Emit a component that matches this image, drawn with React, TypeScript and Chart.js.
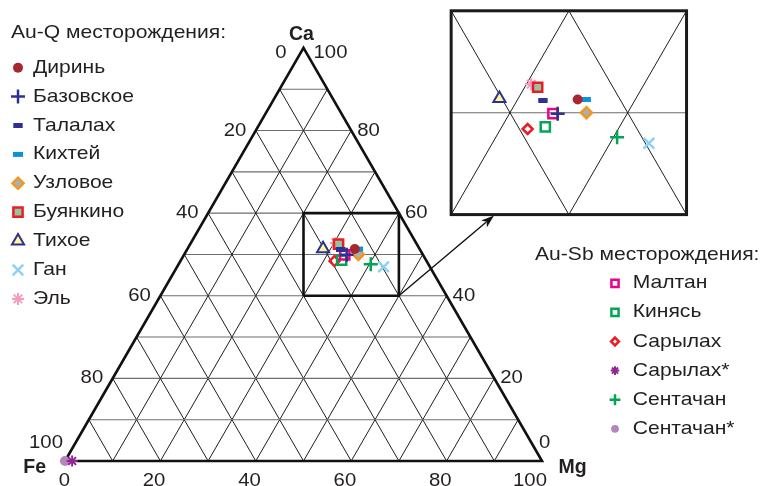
import React, { useEffect, useRef } from 'react';
import { Chart, registerables } from 'chart.js';
import { drawPoint } from 'chart.js/helpers';

Chart.register(...registerables);

// ---------- data ----------
const AUQ_NAMES = ['Диринь', 'Базовское', 'Талалах', 'Кихтей', 'Узловое', 'Буянкино', 'Тихое', 'Ган', 'Эль'];
const AUQ_CA = [51.3, 49.9, 51.2, 51.3, 50.0, 52.5, 51.4, 47.0, 52.8];
const AUQ_MG = [35.1, 34.1, 32.2, 35.8, 36.5, 31.1, 28.4, 43.3, 30.4];
const AUQ_FE = [13.6, 16.0, 16.6, 12.9, 13.5, 16.4, 20.2, 9.7, 16.8];

const AUSB_NAMES = ['Малтан', 'Кинясь', 'Сарылах', 'Сарылах*', 'Сентачан', 'Сентачан*'];
const AUSB_CA = [49.9, 48.6, 48.4, 0, 47.6, 0];
const AUSB_MG = [33.7, 33.7, 32.3, 1.5, 40.3, 0];
const AUSB_FE = [16.4, 17.7, 19.3, 98.5, 12.1, 100];

const GRID_STEPS = [10, 20, 30, 40, 50, 60, 70, 80, 90];
const FE_TICKS = [0, 20, 40, 60, 80, 100];
const CA_TICKS = [100, 80, 60, 40, 20, 0];
const MG_TICKS = [0, 20, 40, 60, 80, 100];
// zoom window: Ca range and (Mg + Ca/2) range
const ZOOM_CA = [40, 60];
const ZOOM_U = [50, 70];

const AUQ_TITLE = 'Au-Q месторождения:';
const AUSB_TITLE = 'Au-Sb месторождения:';

// ---------- styles ----------
type St = { ps: string; r: number; bg: string; bc: string; bw: number };
const AUQ_STYLES: St[] = [
  { ps: 'circle', r: 5, bg: '#a8262e', bc: '#a8262e', bw: 0 },
  { ps: 'cross', r: 7, bg: 'rgba(0,0,0,0)', bc: '#2e3192', bw: 2.5 },
  { ps: 'line', r: 4.7, bg: 'rgba(0,0,0,0)', bc: '#2e3192', bw: 5 },
  { ps: 'line', r: 5, bg: 'rgba(0,0,0,0)', bc: '#0a93d6', bw: 5 },
  { ps: 'rectRot', r: 5.5, bg: '#9db3c2', bc: '#f7941d', bw: 2.5 },
  { ps: 'rect', r: 6.5, bg: '#8ec7a0', bc: '#ed1c24', bw: 2.5 },
  { ps: 'triangle', r: 7, bg: '#fff799', bc: '#2e3192', bw: 2 },
  { ps: 'crossRot', r: 7.5, bg: 'rgba(0,0,0,0)', bc: '#8ad3f4', bw: 2.5 },
  { ps: 'star', r: 6, bg: 'rgba(0,0,0,0)', bc: '#f49ac1', bw: 2 },
];
const AUSB_STYLES: St[] = [
  { ps: 'rect', r: 6.5, bg: 'rgba(0,0,0,0)', bc: '#ec008c', bw: 2.5 },
  { ps: 'rect', r: 6.5, bg: 'rgba(0,0,0,0)', bc: '#00a651', bw: 2.5 },
  { ps: 'rectRot', r: 5, bg: 'rgba(0,0,0,0)', bc: '#ed1c24', bw: 2.5 },
  { ps: 'star', r: 5.5, bg: 'rgba(0,0,0,0)', bc: '#92278f', bw: 2 },
  { ps: 'cross', r: 7, bg: 'rgba(0,0,0,0)', bc: '#00a651', bw: 2.5 },
  { ps: 'circle', r: 5, bg: '#b585be', bc: '#b585be', bw: 0 },
];

const TEXT = '#231f20';
const FONT = '18.5px "Liberation Sans", Arial, sans-serif';
const BOLD = 'bold 19.5px "Liberation Sans", Arial, sans-serif';
const SX_TEXT = 1.14;
const SX_NUM = 1.1;

const W = 761;
const H = 486;
const K = 4.77; // px per unit in main view
const X0 = 65;
const Y0 = 461;
const INSET_LEFT = 448;
const INSET_TOP = 8;
const INSET_W = 241;
const INSET_H = 210;
const INSET_PAD = { left: 3.15, top: 2.8, right: 2.45, bottom: 3.4 };

const S3 = Math.sqrt(3) / 2;
function toXY(ca: number, mg: number, fe: number) {
  const s = ca + mg + fe;
  const c = (ca / s) * 100;
  const m = (mg / s) * 100;
  return { x: m + c / 2, y: c * S3 };
}

function gridDatasets() {
  const ds: any[] = [];
  GRID_STEPS.forEach((k) => {
    ds.push({ data: [toXY(k, 0, 100 - k), toXY(k, 100 - k, 0)], c: '#6d6d6d', w: 1.1 });
    ds.push({ data: [toXY(0, k, 100 - k), toXY(100 - k, k, 0)], c: '#1e1e1e', w: 1 });
    ds.push({ data: [toXY(0, 100 - k, k), toXY(100 - k, 0, k)], c: '#1e1e1e', w: 1 });
  });
  return ds.map((d) => ({
    data: d.data,
    showLine: true,
    pointRadius: 0,
    borderColor: d.c,
    borderWidth: d.w,
    order: 10,
  }));
}

function pointDatasets() {
  const out: any[] = [];
  const add = (names: string[], ca: number[], mg: number[], fe: number[], st: St[]) => {
    names.forEach((n, i) => {
      out.push({
        label: n,
        data: [toXY(ca[i], mg[i], fe[i])],
        showLine: false,
        pointStyle: st[i].ps,
        pointRadius: st[i].r,
        pointBackgroundColor: st[i].bg,
        pointBorderColor: st[i].bc,
        pointBorderWidth: st[i].bw,
        order: 0,
      });
    });
  };
  add(AUQ_NAMES, AUQ_CA, AUQ_MG, AUQ_FE, AUQ_STYLES);
  add(AUSB_NAMES, AUSB_CA, AUSB_MG, AUSB_FE, AUSB_STYLES);
  return out;
}

function txt(ctx: CanvasRenderingContext2D, s: string, x: number, y: number, align: CanvasTextAlign, baseline: CanvasTextBaseline = 'middle', font = FONT, sx = SX_NUM) {
  ctx.save();
  ctx.font = font;
  ctx.fillStyle = TEXT;
  ctx.textAlign = align;
  ctx.textBaseline = baseline;
  ctx.translate(x, y);
  ctx.scale(sx, 1);
  ctx.fillText(s, 0, 0);
  ctx.restore();
}

function legendMarker(ctx: CanvasRenderingContext2D, st: St, x: number, y: number, f: number) {
  ctx.save();
  ctx.fillStyle = st.bg;
  ctx.strokeStyle = st.bc;
  ctx.lineWidth = st.bw;
  drawPoint(ctx, { pointStyle: st.ps as any, radius: st.r * f, rotation: 0, borderWidth: st.bw } as any, x, y);
  ctx.restore();
}

const mainDecor = {
  id: 'mainDecor',
  afterDraw(chart: any) {
    const ctx: CanvasRenderingContext2D = chart.ctx;
    const xs = chart.scales.x;
    const ys = chart.scales.y;
    const P = (ca: number, mg: number, fe: number) => {
      const p = toXY(ca, mg, fe);
      return [xs.getPixelForValue(p.x), ys.getPixelForValue(p.y)];
    };
    // Fe ticks (left edge)
    FE_TICKS.forEach((v) => {
      const [px, py] = P(100 - v, 0, v);
      let dx = -9.5, dy = 0;
      if (v === 0) { dx = -17; dy = 5; }
      if (v === 100) { dx = -2; dy = -18; }
      txt(ctx, String(v), px + dx, py + dy, 'right');
    });
    // Ca ticks (right edge)
    CA_TICKS.forEach((v) => {
      const [px, py] = P(v, 100 - v, 0);
      let dx = 6, dy = 0;
      if (v === 100) { dx = 10; dy = 5; }
      if (v === 0) { dx = -3; dy = -18; }
      txt(ctx, String(v), px + dx, py + dy, 'left');
    });
    // Mg ticks (base)
    MG_TICKS.forEach((v) => {
      const [px, py] = P(0, v, 100 - v);
      txt(ctx, String(v), px + 5, py + 11, 'right', 'top');
    });
    // corner names
    const [ax, ay] = P(100, 0, 0);
    txt(ctx, 'Ca', ax - 2, ay - 13, 'center', 'middle', BOLD, 1);
    const [fx, fy] = P(0, 0, 100);
    txt(ctx, 'Fe', fx - 19, fy + 7, 'right', 'middle', BOLD, 1);
    const [mx, my] = P(0, 100, 0);
    txt(ctx, 'Mg', mx + 16.5, my + 7, 'left', 'middle', BOLD, 1);

    // legends
    txt(ctx, AUQ_TITLE, 11, 33, 'left', 'middle', FONT, SX_TEXT);
    AUQ_NAMES.forEach((n, i) => {
      const y = 67.7 + i * 28.9;
      legendMarker(ctx, AUQ_STYLES[i], 18, y, 1);
      txt(ctx, n, 33, y, 'left', 'middle', FONT, SX_TEXT);
    });
    txt(ctx, AUSB_TITLE, 535, 255, 'left', 'middle', FONT, SX_TEXT);
    AUSB_NAMES.forEach((n, i) => {
      const y = 283.3 + i * 29.1;
      legendMarker(ctx, AUSB_STYLES[i], 615, y, 0.78);
      txt(ctx, n, 632.7, y, 'left', 'middle', FONT, SX_TEXT);
    });

    // arrow from zoom box corner to inset
    const sx = xs.getPixelForValue(ZOOM_U[1]);
    const sy = ys.getPixelForValue(ZOOM_CA[0] * S3);
    const tx = 494, ty = 215.5;
    const ang = Math.atan2(ty - sy, tx - sx);
    const hl = 13, hw = 4.5;
    ctx.save();
    ctx.strokeStyle = '#111';
    ctx.fillStyle = '#111';
    ctx.lineWidth = 1.4;
    ctx.beginPath();
    ctx.moveTo(sx, sy);
    ctx.lineTo(tx - Math.cos(ang) * hl * 0.8, ty - Math.sin(ang) * hl * 0.8);
    ctx.stroke();
    ctx.beginPath();
    ctx.moveTo(tx, ty);
    ctx.lineTo(tx - Math.cos(ang) * hl - Math.sin(ang) * hw, ty - Math.sin(ang) * hl + Math.cos(ang) * hw);
    ctx.lineTo(tx - Math.cos(ang) * hl * 0.75, ty - Math.sin(ang) * hl * 0.75);
    ctx.lineTo(tx - Math.cos(ang) * hl + Math.sin(ang) * hw, ty - Math.sin(ang) * hl - Math.cos(ang) * hw);
    ctx.closePath();
    ctx.fill();
    ctx.restore();
  },
};

const insetDecor = {
  id: 'insetDecor',
  afterDraw(chart: any) {
    const ctx: CanvasRenderingContext2D = chart.ctx;
    const a = chart.chartArea;
    ctx.save();
    ctx.strokeStyle = '#1a1a1a';
    ctx.lineWidth = 3;
    ctx.strokeRect(a.left, a.top, a.right - a.left, a.bottom - a.top);
    ctx.restore();
  },
};

export default function App() {
  const mainRef = useRef<HTMLCanvasElement | null>(null);
  const insetRef = useRef<HTMLCanvasElement | null>(null);

  useEffect(() => {
    if (!mainRef.current || !insetRef.current) return;
    const outline = {
      data: [toXY(0, 0, 100), toXY(0, 100, 0), toXY(100, 0, 0), toXY(0, 0, 100)],
      showLine: true,
      pointRadius: 0,
      borderColor: '#111',
      borderWidth: 2.6,
      borderJoinStyle: 'miter',
      order: 4,
    };
    const box = {
      data: [
        { x: ZOOM_U[0], y: ZOOM_CA[0] * S3 },
        { x: ZOOM_U[1], y: ZOOM_CA[0] * S3 },
        { x: ZOOM_U[1], y: ZOOM_CA[1] * S3 },
        { x: ZOOM_U[0], y: ZOOM_CA[1] * S3 },
        { x: ZOOM_U[0], y: ZOOM_CA[0] * S3 },
      ],
      showLine: true,
      pointRadius: 0,
      borderColor: '#111',
      borderWidth: 2.6,
      borderJoinStyle: 'miter',
      order: 3,
    };
    const common: any = {
      animation: false,
      responsive: false,
      devicePixelRatio: 1,
      events: [],
      plugins: { legend: { display: false }, tooltip: { enabled: false } },
    };
    const main = new Chart(mainRef.current, {
      type: 'scatter',
      data: { datasets: [...pointDatasets(), box, outline, ...gridDatasets()] as any },
      options: {
        ...common,
        layout: { padding: 0, autoPadding: false },
        scales: {
          x: { type: 'linear', min: -X0 / K, max: (W - X0) / K, display: false },
          y: { type: 'linear', min: -(H - Y0) / K, max: Y0 / K, display: false },
        },
      },
      plugins: [mainDecor],
    });
    const inset = new Chart(insetRef.current, {
      type: 'scatter',
      data: { datasets: [...pointDatasets(), ...gridDatasets()] as any },
      options: {
        ...common,
        layout: { padding: INSET_PAD, autoPadding: false },
        scales: {
          x: { type: 'linear', min: ZOOM_U[0], max: ZOOM_U[1], display: false },
          y: { type: 'linear', min: ZOOM_CA[0] * S3, max: ZOOM_CA[1] * S3, display: false },
        },
      },
      plugins: [insetDecor],
    });
    return () => {
      main.destroy();
      inset.destroy();
    };
  }, []);

  return (
    <div style={{ position: 'absolute', left: 0, top: 0, width: W, height: H, background: '#fff' }}>
      <canvas ref={mainRef} width={W} height={H} style={{ position: 'absolute', left: 0, top: 0, width: W, height: H }} />
      <canvas
        ref={insetRef}
        width={INSET_W}
        height={INSET_H}
        style={{ position: 'absolute', left: INSET_LEFT, top: INSET_TOP, width: INSET_W, height: INSET_H }}
      />
    </div>
  );
}
